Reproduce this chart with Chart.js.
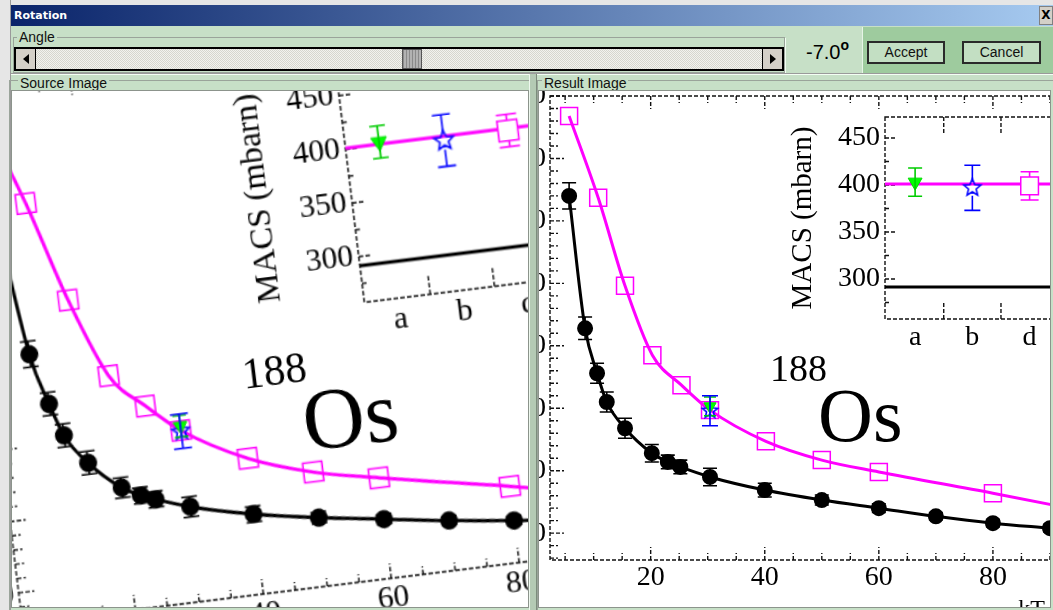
<!DOCTYPE html>
<html lang="en">
<head>
<meta charset="utf-8">
<title>Rotation</title>
<script src="https://cdn.jsdelivr.net/npm/chart.js@4.4.1/dist/chart.umd.min.js"></script>
<style>
  html, body { margin: 0; padding: 0; background: #e4e4e4; }
  #ventana { position: relative; width: 1053px; height: 610px; overflow: hidden; background: #c7e0c7;
             font-family: "Liberation Sans", Arial, sans-serif; }
  #ventana div { position: absolute; box-sizing: border-box; }
  #bordeIzq { left: 0; top: 0; width: 11px; height: 610px; background: #e6e6e6; border-right: 1px solid #9a9a9a; }
  #bordeSup { left: 0; top: 0; width: 1053px; height: 5px; background: #e6e6e6; }
  #titulo { left: 11px; top: 5px; width: 1042px; height: 21px; background: linear-gradient(to right, #0a246a, #a6caf0);
            color: #fff; font: bold 11px "DejaVu Sans", sans-serif; line-height: 21px; padding-left: 3px; }
  #cerrar { left: 1039px; top: 6px; width: 14px; height: 19px; background: #d4d0c8; border: 1px solid #808080;
            font: bold 12px "DejaVu Sans", sans-serif; line-height: 17px; text-align: center; color: #000; }
  .grupo { border: 1px solid #9aa49a; box-shadow: 1px 1px 0 #f4fff4; }
  .etiqueta { background: #c7e0c7; font-size: 14px; line-height: 16px; padding: 0 2px; color: #111; }
  #slider { left: 14px; top: 47px; width: 770px; height: 24px; border: 2px solid #000;
            background: repeating-conic-gradient(#d6d6ce 0 25%, #f2f2ee 0 50%) 0 0 / 2px 2px; }
  #ventana .flecha { top: 0; width: 20px; height: 20px; background: #d4d0c8; }
  #ventana .tri { width: 0; height: 0; top: 5px; left: 7px; border-top: 5px solid transparent; border-bottom: 5px solid transparent; }
  #cursor { left: 386px; top: 0; width: 20px; height: 20px; border: 1px solid #555;
            background: repeating-linear-gradient(to right, #8a8a8a 0 1px, #b2b2b2 1px 3px); }
  #valor { left: 806px; top: 40px; font-size: 20px; color: #000; line-height: 24px; }
  #valor span { font-size: 14px; position: relative; top: -9px; font-weight: bold; }
  #zonaBotones { left: 862px; top: 27px; width: 191px; height: 46px; background: #9ecb9e; border-left: 1px solid #e6f4e6; }
  .boton { top: 41px; height: 23px; border: 2px solid #2a2a2a; background: #c3dfc3; font-size: 14px; line-height: 19px;
           text-align: center; color: #111; }
  .panel { top: 90px; height: 518px; border: 1px solid #8c948c; background: #fff; overflow: hidden; }
  #ventana .figura { left: 0; top: 0; width: 800px; height: 700px; background: #fff; }
  #ventana .figura canvas { position: absolute; }
  .txt188 { font: 38px "Liberation Serif", "Times New Roman", serif; line-height: 38px; color: #000; }
  .txtOs { font: 76px "Liberation Serif", "Times New Roman", serif; line-height: 76px; color: #000; }
  #separador { left: 529px; top: 74px; width: 8px; height: 536px; background: #b4cab4;
               border-left: 1px solid #eef8ee; border-right: 1px solid #7c8c7c; }
</style>
</head>
<body>
<div id="ventana">
  <div id="bordeSup"></div>
  <div id="bordeIzq"></div>
  <div id="titulo">Rotation</div>
  <div id="cerrar">X</div>

  <div class="grupo" style="left:13px; top:37px; width:772px; height:36px;"></div>
  <div class="etiqueta" style="left:17px; top:29px;">Angle</div>
  <div id="slider">
    <div class="flecha" style="left:0; border-right:1px solid #000;"><div class="tri" style="border-right:6px solid #000;"></div></div>
    <div id="cursor"></div>
    <div class="flecha" style="right:0; border-left:1px solid #000;"><div class="tri" style="border-left:6px solid #000;"></div></div>
  </div>
  <div id="valor">-7.0<span>o</span></div>
  <div id="zonaBotones"></div>
  <div class="boton" style="left:867px; width:78px;">Accept</div>
  <div class="boton" style="left:962px; width:79px;">Cancel</div>
  <div style="left:11px; top:73px; width:1042px; height:2px; border-top:1px solid #9a9a9a; border-bottom:1px solid #f4fff4;"></div>

  <div class="grupo" style="left:9px; top:80px; width:522px; height:540px;"></div>
  <div class="etiqueta" style="left:18px; top:75px;">Source Image</div>
  <div class="panel" id="panelFuente" style="left:11px; width:518px;"></div>

  <div id="separador"></div>

  <div class="grupo" style="left:537px; top:80px; width:530px; height:540px;"></div>
  <div class="etiqueta" style="left:542px; top:75px;">Result Image</div>
  <div class="panel" id="panelResultado" style="left:538px; width:513px;"></div>
</div>

<script>
// Datos (MACS en mbarn vs kT en keV)
const kTNegro = [5.7, 8.5, 10.6, 12.3, 15.5, 20.2, 23, 25.2, 30.4, 40, 50, 60, 70, 80, 90];
const macsNegro = [740, 528, 456, 410, 368, 328, 314, 306, 290, 269, 253, 240, 227, 216, 208];
const errNegro = [21, 18, 16, 16, 16, 14, 11, 11, 14, 11, 8, 7, 6, 6, 6];

const kTCuadros = [5.7, 10.8, 15.5, 20.3, 25.4, 30.4, 40.2, 50, 60, 80];
const macsCuadros = [868, 737, 596, 485, 437, 397, 347, 317, 298, 264];

const kTAjuste = [5.7, 10.8, 15.5, 20.3, 25.4, 30.4, 40.2, 50, 60, 80, 100];
const macsAjuste = [868, 737, 596, 485, 437, 397, 347, 317, 298, 264, 228];

const kT30 = [30.4];
const macsVerde = [403];
const errVerde = [15];
const macsAzul = [396];
const errAzul = [24];

// recuadro
const categoriasInset = ["a", "b", "d"];
const posVerde = [1], insetVerde = [403], insetErrVerde = [15];
const posAzul = [2], insetAzul = [397], insetErrAzul = [24];
const posCuadro = [3], insetCuadro = [399], insetErrCuadro = [15];
const rangoInsetX = [0.474, 4.16];
const insetAjuste = [401, 401];
const insetNegro = [291.5, 291.5];

const SERIF = '"Liberation Serif", "Times New Roman", serif';

function puntos(xs, ys) {
  return xs.map((x, i) => ({ x: x, y: ys[i] }));
}

function crearEstrella(color, r) {
  const c = document.createElement("canvas");
  const t = Math.ceil(r * 2 + 4);
  c.width = t;
  c.height = t;
  const g = c.getContext("2d");
  g.strokeStyle = color;
  g.lineWidth = 1.6;
  g.beginPath();
  for (let k = 0; k < 10; k++) {
    const ang = -Math.PI / 2 + (k * Math.PI) / 5;
    const rr = k % 2 ? r * 0.45 : r;
    g.lineTo(t / 2 + rr * Math.cos(ang), t / 2 + rr * Math.sin(ang));
  }
  g.closePath();
  g.stroke();
  return c;
}

// marco punteado con marcas hacia adentro (estilo ROOT)
const marcoRoot = {
  id: "marcoRoot",
  beforeDatasetsDraw(chart, args, o) {
    const { ctx, chartArea: a, scales } = chart;
    const x = scales.x, y = scales.y;
    ctx.save();
    ctx.strokeStyle = "#111";
    ctx.lineWidth = 1.4;
    ctx.setLineDash([4, 2]);
    ctx.strokeRect(a.left, a.top, a.right - a.left, a.bottom - a.top);
    ctx.beginPath();
    for (let i = 0; ; i++) {
      const v = o.xInicio + i * o.xPaso;
      if (v > x.max) break;
      if (v < x.min) continue;
      const px = x.getPixelForValue(v);
      const l = Math.abs(v % o.xMayor) < 1e-6 ? o.largoX[0] : o.largoX[1];
      ctx.moveTo(px, a.bottom);
      ctx.lineTo(px, a.bottom - l);
      ctx.moveTo(px, a.top);
      ctx.lineTo(px, a.top + l);
    }
    for (let i = 0; ; i++) {
      const v = o.yInicio + i * o.yPaso;
      if (v > y.max) break;
      if (v < y.min) continue;
      const py = y.getPixelForValue(v);
      const l = Math.abs(v % o.yMayor) < 1e-6 ? o.largoY[0] : o.largoY[1];
      ctx.moveTo(a.left, py);
      ctx.lineTo(a.left + l, py);
      ctx.moveTo(a.right, py);
      ctx.lineTo(a.right - l, py);
    }
    ctx.stroke();
    ctx.restore();
  },
};

const barrasError = {
  id: "barrasError",
  afterDatasetsDraw(chart) {
    const { ctx, chartArea: a, scales } = chart;
    chart.data.datasets.forEach((ds, i) => {
      if (!ds.errores) return;
      const meta = chart.getDatasetMeta(i);
      ctx.save();
      ctx.beginPath();
      ctx.rect(a.left, a.top, a.right - a.left, a.bottom - a.top);
      ctx.clip();
      ctx.strokeStyle = ds.colorError;
      ctx.lineWidth = 1.6;
      ctx.beginPath();
      meta.data.forEach((pt, j) => {
        const e = ds.errores[j];
        if (!e) return;
        const v = ds.data[j].y;
        const y1 = scales.y.getPixelForValue(v + e);
        const y2 = scales.y.getPixelForValue(v - e);
        const h = ds.huecoError || 0;
        const m = ds.anchoCapa / 2;
        ctx.moveTo(pt.x, y1);
        ctx.lineTo(pt.x, Math.min(pt.y - h, y2));
        ctx.moveTo(pt.x, Math.max(pt.y + h, y1));
        ctx.lineTo(pt.x, y2);
        ctx.moveTo(pt.x - m, y1);
        ctx.lineTo(pt.x + m, y1);
        ctx.moveTo(pt.x - m, y2);
        ctx.lineTo(pt.x + m, y2);
      });
      ctx.stroke();
      ctx.restore();
    });
  },
};

function configPrincipal() {
  return {
    type: "line",
    data: {
      datasets: [
        {
          data: puntos(kT30, macsVerde), errores: errVerde, colorError: "#00cc00", anchoCapa: 12, huecoError: 0,
          showLine: false, pointStyle: "triangle", rotation: 180, pointRadius: 7,
          pointBackgroundColor: "#00ff00", pointBorderColor: "#00dd00", pointBorderWidth: 1,
        },
        {
          data: puntos(kT30, macsAzul), errores: errAzul, colorError: "#0000ff", anchoCapa: 16, huecoError: 0,
          showLine: false, pointStyle: crearEstrella("#0000ff", 8), pointRadius: 8,
        },
        {
          data: puntos(kTCuadros, macsCuadros), showLine: false, pointStyle: "rect", pointRadius: 12,
          pointBackgroundColor: "rgba(0,0,0,0)", pointBorderColor: "#ff00ff", pointBorderWidth: 1.5,
        },
        {
          data: puntos(kTNegro, macsNegro), errores: errNegro, colorError: "#000", anchoCapa: 14, huecoError: 0,
          borderColor: "#000", borderWidth: 3, cubicInterpolationMode: "monotone",
          pointRadius: 6.5, pointBackgroundColor: "#000", pointBorderColor: "#000",
        },
        {
          data: puntos(kTAjuste, macsAjuste), borderColor: "#ff00ff", borderWidth: 3,
          cubicInterpolationMode: "monotone", pointRadius: 0,
        },
      ],
    },
    options: {
      responsive: false,
      animation: false,
      events: [],
      layout: { padding: { left: 0, right: 53, top: 46, bottom: 30 } },
      plugins: {
        legend: { display: false },
        tooltip: { enabled: false },
        marcoRoot: { xInicio: 5, xPaso: 5, xMayor: 20, largoX: [13, 7], yInicio: 160, yPaso: 20, yMayor: 100, largoY: [14, 8] },
      },
      scales: {
        x: {
          type: "linear", min: 2.35, max: 100,
          afterFit: (s) => { s.height = 80; },
          grid: { display: false, drawTicks: false },
          border: { display: false },
          ticks: { stepSize: 20, includeBounds: false, padding: 1, color: "#000", autoSkip: false, maxRotation: 0,
                   font: { family: SERIF, size: 28 } },
          title: { display: true, text: "kT (keV)", align: "end", color: "#000", padding: { top: 0, bottom: 16 },
                   font: { family: SERIF, size: 24 } },
        },
        y: {
          type: "linear", min: 157, max: 900,
          afterFit: (s) => { s.width = 110; },
          grid: { display: false, drawTicks: false },
          border: { display: false },
          ticks: { stepSize: 100, includeBounds: false, padding: 4, color: "#000", font: { family: SERIF, size: 28 } },
        },
      },
    },
    plugins: [marcoRoot, barrasError],
  };
}

function configInset() {
  return {
    type: "line",
    data: {
      datasets: [
        {
          data: puntos(posVerde, insetVerde), errores: insetErrVerde, colorError: "#00cc00", anchoCapa: 14, huecoError: 0,
          showLine: false, pointStyle: "triangle", rotation: 180, pointRadius: 8,
          pointBackgroundColor: "#00ff00", pointBorderColor: "#00dd00", pointBorderWidth: 1,
        },
        {
          data: puntos(posAzul, insetAzul), errores: insetErrAzul, colorError: "#0000ff", anchoCapa: 16, huecoError: 8,
          showLine: false, pointStyle: crearEstrella("#0000ff", 9), pointRadius: 9,
        },
        {
          data: puntos(posCuadro, insetCuadro), errores: insetErrCuadro, colorError: "#ff00ff", anchoCapa: 18, huecoError: 9,
          showLine: false, pointStyle: "rect", pointRadius: 12.5,
          pointBackgroundColor: "#fff", pointBorderColor: "#ff00ff", pointBorderWidth: 1.5,
        },
        {
          data: puntos(rangoInsetX, insetAjuste), borderColor: "#ff00ff", borderWidth: 3, pointRadius: 0,
        },
        {
          data: puntos(rangoInsetX, insetNegro), borderColor: "#000", borderWidth: 3, pointRadius: 0,
        },
      ],
    },
    options: {
      responsive: false,
      animation: false,
      events: [],
      layout: { padding: { left: 0, right: 1, top: 27, bottom: 16 } },
      plugins: {
        legend: { display: false },
        tooltip: { enabled: false },
        marcoRoot: { xInicio: 1.5, xPaso: 1, xMayor: 0.5, largoX: [16, 16], yInicio: 275, yPaso: 25, yMayor: 50, largoY: [10, 6] },
      },
      scales: {
        x: {
          type: "linear", min: rangoInsetX[0], max: rangoInsetX[1],
          afterFit: (s) => { s.height = 45; },
          grid: { display: false, drawTicks: false },
          border: { display: false },
          ticks: { stepSize: 1, includeBounds: false, padding: 2, color: "#000", autoSkip: false, maxRotation: 0,
                   font: { family: SERIF, size: 28 },
                   callback: (v) => categoriasInset[v - 1] || "" },
        },
        y: {
          type: "linear", min: 257.4, max: 472.3,
          afterFit: (s) => { s.width = 125; },
          grid: { display: false, drawTicks: false },
          border: { display: false },
          ticks: { stepSize: 50, includeBounds: false, padding: 5, color: "#000", font: { family: SERIF, size: 28 } },
          title: { display: true, text: "MACS (mbarn)", color: "#000", padding: { top: 26, bottom: 0 },
                   font: { family: SERIF, size: 29 } },
        },
      },
    },
    plugins: [marcoRoot, barrasError],
  };
}

// figura completa: coordenadas locales = pagina - (400, 0)
function armarFigura(contenedor, izq, arriba, transformacion) {
  const fig = document.createElement("div");
  fig.className = "figura";
  fig.style.left = izq + "px";
  fig.style.top = arriba + "px";
  if (transformacion) {
    fig.style.transformOrigin = "478px 508px";
    fig.style.transform = transformacion;
  }
  contenedor.appendChild(fig);

  const c1 = document.createElement("canvas");
  c1.width = 720;
  c1.height = 620;
  c1.style.left = "40px";
  c1.style.top = "50px";
  fig.appendChild(c1);

  const c2 = document.createElement("canvas");
  c2.width = 350;
  c2.height = 290;
  c2.style.left = "360px";
  c2.style.top = "90px";
  fig.appendChild(c2);

  const t1 = document.createElement("div");
  t1.className = "txt188";
  t1.textContent = "188";
  t1.style.left = "370px";
  t1.style.top = "349px";
  fig.appendChild(t1);

  const t2 = document.createElement("div");
  t2.className = "txtOs";
  t2.textContent = "Os";
  t2.style.left = "418px";
  t2.style.top = "377px";
  fig.appendChild(t2);

  new Chart(c1, configPrincipal());
  new Chart(c2, configInset());
}

// resultado: sin rotar (panel interior en 539, 91)
armarFigura(document.getElementById("panelResultado"), 400 - 539, 0 - 91, null);
// fuente: la misma figura girada -7 grados (panel interior en 12, 91)
armarFigura(document.getElementById("panelFuente"), 400 - 12, 0 - 91,
  "translate(-495px, 11px) rotate(-7deg) scale(1.13, 1.15)");
</script>
</body>
</html>
